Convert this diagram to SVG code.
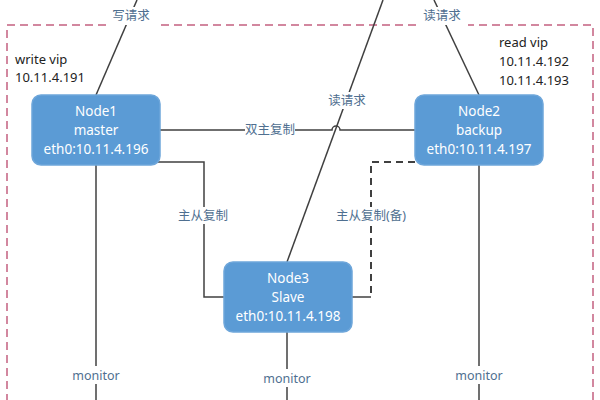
<svg xmlns="http://www.w3.org/2000/svg" width="600" height="400" viewBox="0 0 600 400">
<style>
.node{fill:#5b9bd5;stroke:#6ea6da;stroke-width:1.5}
.nt{font-family:"Noto Sans","Noto Sans CJK SC",sans-serif;font-size:13.5px;fill:#ffffff;text-anchor:middle}
.ln{fill:none;stroke:#404040;stroke-width:1.5}
.dl{fill:none;stroke:#404040;stroke-width:2;stroke-dasharray:7,5}
.lb{font-family:"Noto Sans","Noto Sans CJK SC",sans-serif;font-size:12.5px;fill:#4f6f90;text-anchor:middle}
.bk{font-family:"Noto Sans",sans-serif;font-size:13px;fill:#222222}
.bg{fill:#ffffff}
</style>
<rect x="0" y="0" width="600" height="400" fill="#ffffff"/>
<g id="boundary">
<path d="M106 25 H7 V400 M593 400 V25 H468 M416 25 H157" fill="none" stroke="#c36080" stroke-width="1.5" stroke-dasharray="8,5"/>
</g>
<g id="connectors">
<line class="ln" x1="96" y1="95" x2="137" y2="0"/>
<line class="ln" x1="479" y1="95" x2="434" y2="0"/>
<path class="ln" d="M287 262 L383 0"/>
<path class="ln" d="M160 130 H332 A4 4 0 0 1 340 130 H415"/>
<path class="ln" d="M157 162 H204 V297 H224"/>
<path class="dl" d="M415 162 H371 V297"/>
<path class="ln" d="M371 297 H352"/>
<line class="ln" x1="96" y1="165" x2="96" y2="400"/>
<line class="ln" x1="287" y1="332" x2="287" y2="400"/>
<line class="ln" x1="479" y1="165" x2="479" y2="400"/>
<rect class="bg" x="108" y="7" width="47" height="18"/>
<text class="lb" x="131" y="20">写请求</text>
<rect class="bg" x="419" y="7" width="47" height="18"/>
<text class="lb" x="442" y="20">读请求</text>
<rect class="bg" x="324" y="92" width="47" height="17"/>
<text class="lb" x="347" y="105">读请求</text>
<rect class="bg" x="245" y="122" width="50" height="16"/>
<text class="lb" x="270" y="134">双主复制</text>
<rect class="bg" x="172" y="207" width="62" height="17"/>
<text class="lb" x="203" y="220">主从复制</text>
<rect class="bg" x="328" y="207" width="86" height="17"/>
<text class="lb" x="371" y="220">主从复制(备)</text>
<rect class="bg" x="66" y="366" width="60" height="18"/>
<text class="lb" x="96" y="380">monitor</text>
<rect class="bg" x="257" y="369" width="60" height="18"/>
<text class="lb" x="287" y="383">monitor</text>
<rect class="bg" x="449" y="366" width="60" height="18"/>
<text class="lb" x="479" y="380">monitor</text>
</g>
<g id="write-vip">
<text class="bk" x="15" y="64">write vip</text>
<text class="bk" x="15" y="82">10.11.4.191</text>
</g>
<g id="read-vip">
<text class="bk" x="499" y="47">read vip</text>
<text class="bk" x="499" y="66">10.11.4.192</text>
<text class="bk" x="499" y="85">10.11.4.193</text>
</g>
<g id="node1">
<rect class="node" x="32" y="95" width="128" height="70" rx="9"/>
<text class="nt" x="96" y="116">Node1</text>
<text class="nt" x="96" y="135">master</text>
<text class="nt" x="96" y="154">eth0:10.11.4.196</text>
</g>
<g id="node2">
<rect class="node" x="415" y="95" width="128" height="70" rx="9"/>
<text class="nt" x="479" y="116">Node2</text>
<text class="nt" x="479" y="135">backup</text>
<text class="nt" x="479" y="154">eth0:10.11.4.197</text>
</g>
<g id="node3">
<rect class="node" x="224" y="262" width="128" height="70" rx="9"/>
<text class="nt" x="288" y="283">Node3</text>
<text class="nt" x="288" y="302">Slave</text>
<text class="nt" x="288" y="321">eth0:10.11.4.198</text>
</g>
</svg>
